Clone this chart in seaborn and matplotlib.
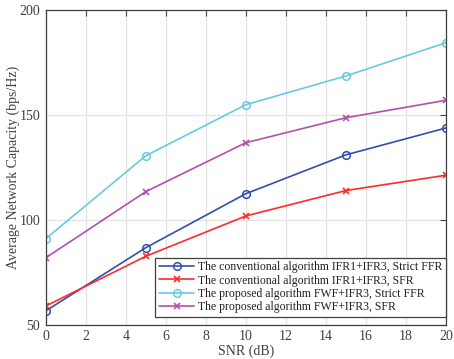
import numpy as np
import pandas as pd
import seaborn as sns
import matplotlib.pyplot as plt

# SNR values and capacities
snr = [0, 5, 10, 15, 20]
conv_strict = [56.7, 86.8, 112.5, 131.0, 143.8]
conv_sfr = [59.0, 82.7, 101.9, 114.0, 121.3]
prop_strict = [91.1, 130.6, 154.9, 168.6, 184.4]
prop_sfr = [82.0, 113.5, 136.8, 148.7, 157.0]

labels = ['The conventional algorithm IFR1+IFR3, Strict FFR',
          'The conventional algorithm IFR1+IFR3, SFR',
          'The proposed algorithm FWF+IFR3, Strict FFR',
          'The proposed algorithm FWF+IFR3, SFR']
colors = ['#3050a8', '#ff2a2a', '#66cbe0', '#b44fae']
markers = ['o', 'x', 'o', 'x']

sns.set_style('whitegrid')
plt.rcParams['font.family'] = ['Liberation Serif', 'DejaVu Serif']

fig = plt.figure(figsize=(4.54, 3.59), dpi=100)
ax = fig.add_axes([0.101, 0.095, 0.881, 0.877])

series = [conv_strict, conv_sfr, prop_strict, prop_sfr]
for vals, lab, col, mk in zip(series, labels, colors, markers):
    df = pd.DataFrame({'SNR': snr, 'cap': vals})
    if mk == 'o':
        sns.lineplot(data=df, x='SNR', y='cap', ax=ax, color=col, label=lab,
                     marker='o', markersize=5.5, markerfacecolor='none',
                     markeredgecolor=col, markeredgewidth=1.1, linewidth=1.2)
    else:
        sns.lineplot(data=df, x='SNR', y='cap', ax=ax, color=col, label=lab,
                     marker='x', markersize=4, markeredgecolor=col,
                     markeredgewidth=1.2, linewidth=1.2)

ax.set_xlim(0, 20)
ax.set_ylim(50, 200)
ax.set_xticks(np.arange(0, 21, 2))
ax.set_yticks([50, 100, 150, 200])
ax.set_xlabel('SNR (dB)', fontsize=10, color='#404040', labelpad=1)
ax.set_ylabel('Average Network Capacity (bps/Hz)', fontsize=10, color='#404040', labelpad=0)
ax.tick_params(direction='in', length=4, width=0.8, colors='#404040', labelsize=10,
               top=True, right=True, pad=4)
ax.grid(True, color='#e3e3e3', linewidth=0.9)
for s in ax.spines.values():
    s.set_color('#404040')
    s.set_linewidth(0.9)
    s.set_visible(True)

leg = ax.legend(loc='lower right', bbox_to_anchor=(1.0, 8 / 315), borderaxespad=0,
                fontsize=8.5, frameon=True, fancybox=False, handlelength=3.0,
                labelspacing=0.12, borderpad=0.3, handletextpad=0.3)
leg.get_frame().set_edgecolor('#404040')
leg.get_frame().set_linewidth(0.9)
leg.get_frame().set_alpha(1)
for t in leg.get_texts():
    t.set_color('#202020')

fig.savefig('out.png', dpi=100)
